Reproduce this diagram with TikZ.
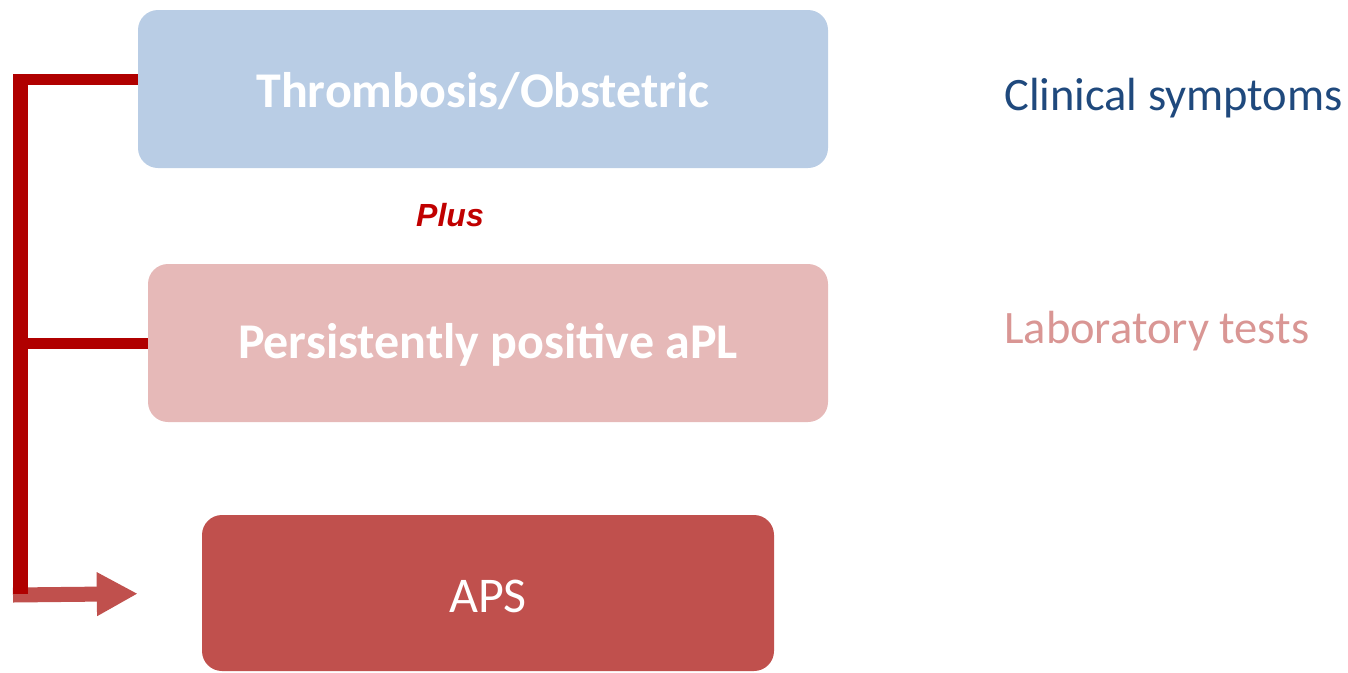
\documentclass[tikz,border=0pt]{standalone}
\usepackage{fontspec}
\setmainfont{Carlito}
\newfontfamily\plusfont{Liberation Sans}
\usetikzlibrary{arrows.meta}
\usetikzlibrary{positioning}
\definecolor{thrombfill}{HTML}{B9CDE5}
\definecolor{aplfill}{HTML}{E6B9B8}
\definecolor{apsfill}{HTML}{C0504D}
\definecolor{barred}{HTML}{B00000}
\definecolor{plusred}{HTML}{C00000}
\definecolor{clinblue}{HTML}{1F497D}
\definecolor{labpink}{HTML}{D99694}

\begin{document}
\begin{tikzpicture}[x=1pt,y=-1pt,
	box/.style={rounded corners=20pt,inner sep=0pt,text depth=0pt,text=white,font=\fontsize{50}{58}\selectfont},
	link/.style={draw=barred,line width=11pt},
	side/.style={anchor=base west,inner sep=0pt,font=\fontsize{46.5}{54}\selectfont}]
			\useasboundingbox (0,0) rectangle (1348,672);
			\node[box,fill=thrombfill,minimum width=690pt,minimum height=158pt,text height=36pt] (thromb) at (483,89) {\bfseries Thrombosis/Obstetric};
			\node[box,fill=aplfill,minimum width=680pt,minimum height=158pt,text height=30pt] (apl) at (488,343) {\bfseries Persistently positive aPL};
			\node[box,fill=apsfill,minimum width=572pt,minimum height=156pt,text height=38pt] (aps) at (488,593) {APS};
			\node[inner sep=0pt,text=plusred,font=\plusfont\fontsize{32}{38}\selectfont\bfseries\itshape] (plus) at (450,215) {Plus};
			\node[side,text=clinblue] (clin) at (1004,110) {Clinical symptoms};
			\node[side,text=labpink] (lab) at (1004,343) {Laboratory tests};
			\coordinate (bartop) at (20.5,74);
			\coordinate (barbot) at (20.5,594);
			\draw[link] ([yshift=9.5pt]thromb.west) -- (13,79.5);
			\draw[link] (apl.west) -- (13,343);
			\draw[draw=apsfill,line width=15pt,-{Triangle[width=41pt,length=41pt]},shorten >=64pt] (13,595) -- (aps.west);
			\draw[draw=barred,line width=15pt] (bartop) -- (barbot);
		\end{tikzpicture}
\end{document}
